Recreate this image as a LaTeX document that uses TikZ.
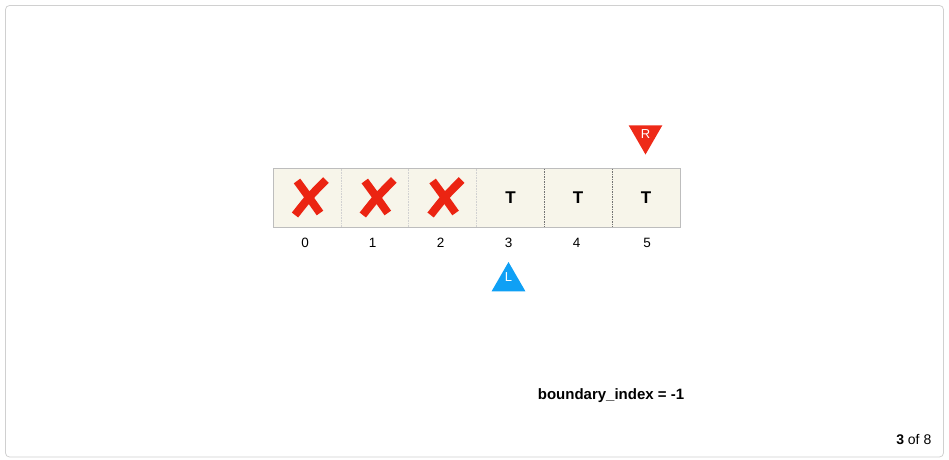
\documentclass[tikz,border=0pt]{standalone}
\usepackage{fontspec}
\setmainfont{Liberation Sans}
\definecolor{cellfill}{HTML}{F7F5EA}
\definecolor{cellborder}{HTML}{BDBDBD}
\definecolor{xred}{HTML}{EB2412}
\definecolor{rred}{HTML}{EE2A18}
\definecolor{lblue}{HTML}{0FA0F5}
\definecolor{frame}{HTML}{D0D0D0}
\usetikzlibrary{shapes.geometric}
\tikzset{
  idx/.style={font=\fontsize{13.5}{15}\selectfont, inner sep=0pt},
  tlabel/.style={font=\bfseries\fontsize{17}{19}\selectfont, inner sep=0pt},
  cross/.style={draw=xred, line width=8pt, line cap=butt},
  ptr/.style={regular polygon, regular polygon sides=3, inner sep=0pt, minimum size=39pt, draw=none},
  ptrlabel/.style={text=white, font=\fontsize{13}{15}\selectfont, inner sep=0pt},
}
\begin{document}
\begin{tikzpicture}[x=1pt,y=-1pt]
\useasboundingbox (0,0) rectangle (949,459);
\draw[frame, line width=0.8pt, rounded corners=4pt] (5.5,5.5) rectangle (943.5,457);
% array
\node[draw=cellborder, fill=cellfill, line width=1pt, minimum width=407pt, minimum height=59pt, inner sep=0pt, anchor=north west] (arr) at (273,168) {};
\foreach \i in {1,2,3} {
  \draw[black!18, line width=0.6pt, densely dotted] ({273+67.8*\i},168.5) -- ({273+67.8*\i},226.5);
}
\foreach \i in {4,5} {
  \draw[black!55, line width=0.6pt, dash pattern=on 1.5pt off 1pt] ({273+67.8*\i},168.5) -- ({273+67.8*\i},226.5);
}
% crosses
\foreach \i in {0,1,2} {
  \begin{scope}[shift={({273+67.8*\i},0)}]
    \path (24,181) coordinate (a\i) (47,213) coordinate (b\i) (53,180) coordinate (c\i) (22,215) coordinate (d\i);
    \draw[cross] (a\i) .. controls (35,196) .. (b\i);
    \draw[cross] (c\i) .. controls (37,196) .. (d\i);
  \end{scope}
}
% T labels
\node[tlabel] (t3) at (510.5,198) {T};
\node[tlabel] (t4) at (578,198) {T};
\node[tlabel] (t5) at (646,198) {T};
% indices
\node[idx] (i0) at (305,243) {0};
\node[idx] (i1) at (372.5,243) {1};
\node[idx] (i2) at (440.5,243) {2};
\node[idx] (i3) at (508.5,243) {3};
\node[idx] (i4) at (576.5,243) {4};
\node[idx] (i5) at (647,243) {5};
% pointers
\node[ptr, fill=rred, shape border rotate=180] (R) at (645.5,135) {};
\node[ptrlabel] (Rl) at (645.5,134) {R};
\node[ptr, fill=lblue] (L) at (508.5,281.5) {};
\node[ptrlabel] (Ll) at (508.5,277) {L};
% text
\node[font=\bfseries\fontsize{15}{17}\selectfont, inner sep=0pt] (bi) at (611,396) {boundary\_index = -1};
\node[font=\fontsize{14}{16}\selectfont, inner sep=0pt, anchor=east] (pg) at (931.5,440) {\textbf{3} of 8};
\end{tikzpicture}
\end{document}
